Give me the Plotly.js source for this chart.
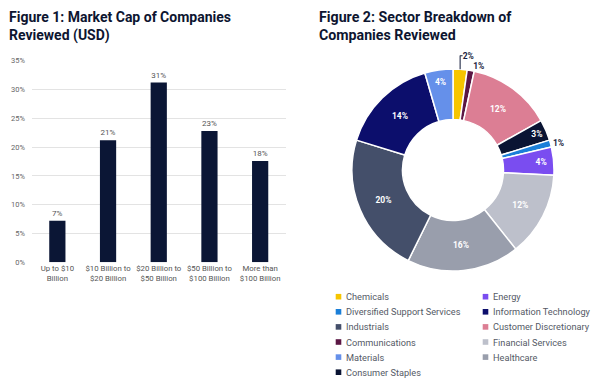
<!DOCTYPE html>
<html><head><meta charset="utf-8">
<script src="https://cdn.plot.ly/plotly-3.0.1.min.js"></script>
<style>html,body{margin:0;padding:0;background:#fff}#chart{width:600px;height:388px}</style>
</head><body><div id="chart"></div>
<script>
// ---- Figure 1 data ----
const capCategories = ['Up to $10<br>Billion', '$10 Billion to<br>$20 Billion', '$20 Billion to<br>$50 Billion', '$50 Billion to<br>$100 Billion', 'More than<br>$100 Billion'];
const capShares = [7.2, 21.2, 31.2, 22.8, 17.6];
const capTickVals = [0, 5, 10, 15, 20, 25, 30, 35];
const capTickText = ['0%', '5%', '10%', '15%', '20%', '25%', '30%', '35%'];

// ---- Figure 2 data (clockwise from 12 o'clock) ----
const sectorLabels = ['Chemicals', 'Communications', 'Customer Discretionary', 'Consumer Staples', 'Diversified Support Services', 'Energy', 'Financial Services', 'Healthcare', 'Industrials', 'Information Technology', 'Materials'];
const sectorShares = [2, 1, 12, 3, 1, 4, 12, 16, 20, 14, 4];
const sectorColors = ['#f6c500', '#5b1744', '#dc7e94', '#0a1433', '#1b7fd8', '#7a4df0', '#bdc0cb', '#999eac', '#444f6a', '#0c0e6c', '#6590ea'];
const legendColumn1 = ['Chemicals', 'Diversified Support Services', 'Industrials', 'Communications', 'Materials', 'Consumer Staples'];
const legendColumn2 = ['Energy', 'Information Technology', 'Customer Discretionary', 'Financial Services', 'Healthcare'];

const W = 600, H = 388;
const FONT = 'Roboto, "Liberation Sans", sans-serif';
const px = v => v / W;
const py = v => 1 - v / H;

const barTrace = {
  type: 'bar',
  x: capCategories,
  y: capShares,
  marker: {color: '#0b1635'},
  texttemplate: '%{y:.0f}%',
  textposition: 'outside',
  cliponaxis: false,
  textfont: {family: FONT, size: 8, color: '#555'},
  hoverinfo: 'x+y',
  showlegend: false
};

const pieTrace = {
  type: 'pie',
  labels: sectorLabels,
  values: sectorShares,
  sort: false,
  direction: 'clockwise',
  rotation: 0,
  hole: 0.5,
  marker: {colors: sectorColors, line: {color: '#ffffff', width: 1.5}},
  texttemplate: '%{value}%',
  textposition: sectorShares.map(v => (v <= 2 ? 'outside' : 'inside')),
  insidetextorientation: 'horizontal',
  insidetextfont: {family: FONT, size: 8.5, color: '#ffffff', weight: 'bold'},
  outsidetextfont: {family: FONT, size: 8.5, color: '#1b2440', weight: 'bold'},
  domain: {x: [px(352), px(554)], y: [py(271), py(69)]},
  showlegend: false
};

const shapes = [];
const annotations = [
  {text: '<b>Figure 1: Market Cap of Companies<br>Reviewed (USD)</b>', xref: 'paper', yref: 'paper', x: px(7), y: py(7), xanchor: 'left', yanchor: 'top', align: 'left', showarrow: false, font: {family: FONT, size: 14, color: '#0d1530'}},
  {text: '<b>Figure 2: Sector Breakdown of<br>Companies Reviewed</b>', xref: 'paper', yref: 'paper', x: px(317), y: py(7), xanchor: 'left', yanchor: 'top', align: 'left', showarrow: false, font: {family: FONT, size: 14.2, color: '#0d1530'}}
];
function addLegendColumn(names, markerX) {
  names.forEach((name, i) => {
    const cy = 296.7 + i * 15.1;
    const color = sectorColors[sectorLabels.indexOf(name)];
    shapes.push({type: 'rect', xref: 'paper', yref: 'paper', x0: px(markerX - 2.8), x1: px(markerX + 2.8), y0: py(cy + 2.8), y1: py(cy - 2.8), fillcolor: color, line: {width: 0}});
    annotations.push({text: name, xref: 'paper', yref: 'paper', x: px(markerX + 5), y: py(cy), xanchor: 'left', yanchor: 'middle', showarrow: false, font: {family: FONT, size: 9.2, color: '#555a66'}});
  });
}
addLegendColumn(legendColumn1, 338.5);
addLegendColumn(legendColumn2, 485.5);

const layout = {
  width: W, height: H,
  margin: {l: 0, r: 0, t: 0, b: 0},
  paper_bgcolor: '#ffffff', plot_bgcolor: '#ffffff',
  font: {family: FONT, color: '#555'},
  showlegend: false,
  bargap: 0.68,
  xaxis: {domain: [px(32), px(285.5)], showgrid: false, showline: false, zeroline: false, ticks: '', tickfont: {family: FONT, size: 7.8, color: '#555'}, fixedrange: true},
  yaxis: {domain: [py(262.3), py(60.7)], range: [0, 35], tickvals: capTickVals, ticktext: capTickText, showgrid: true, gridcolor: '#e3e3e3', gridwidth: 1, zeroline: false, showline: false, ticks: '', ticklabelstandoff: 6, tickfont: {family: FONT, size: 7.5, color: '#666'}, fixedrange: true},
  shapes: shapes,
  annotations: annotations
};

Plotly.newPlot('chart', [barTrace, pieTrace], layout, {displayModeBar: false, staticPlot: true});
</script>
</body></html>
